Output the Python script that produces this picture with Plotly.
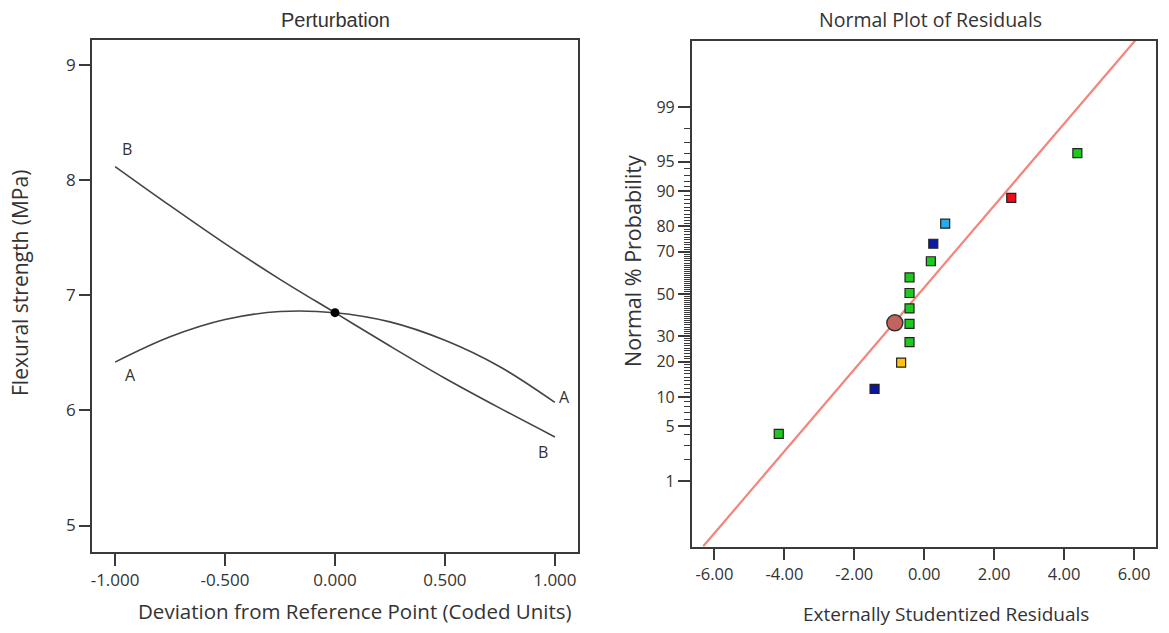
from statistics import NormalDist
import plotly.graph_objects as go

# ---------------- data: perturbation plot ----------------
coded_x = [-1.0, -0.75, -0.5, -0.25, 0.0, 0.25, 0.5, 0.75, 1.0]
factor_A = [6.42, 6.64, 6.79, 6.86, 6.85, 6.77, 6.61, 6.38, 6.07]
factor_B = [8.12, 7.78, 7.45, 7.14, 6.85, 6.56, 6.28, 6.02, 5.77]
ref_point_x = [0.0]
ref_point_y = [6.85]
left_yticks = [5, 6, 7, 8, 9]
left_xticks = [-1.0, -0.5, 0.0, 0.5, 1.0]
left_xtick_text = ["-1.000", "-0.500", "0.000", "0.500", "1.000"]

# ---------------- data: normal plot of residuals ----------------
residuals = [-4.16, -1.42, -0.66, -0.42, -0.42, -0.42, -0.42, -0.42, 0.19, 0.26, 0.60, 2.49, 4.38]
normal_prob = [4.1, 11.9, 19.7, 27.5, 35.5, 42.9, 50.5, 58.2, 65.8, 73.4, 80.9, 88.4, 96.0]
point_colors = ["#1ec81e", "#0a14a8", "#ffc20e", "#1ec81e", "#1ec81e", "#1ec81e", "#1ec81e",
                "#1ec81e", "#1ec81e", "#0a1aa0", "#22aee6", "#e8101a", "#1ec81e"]
highlight_x = [-0.84]
highlight_prob = [36.0]
fit_line_x = [-6.32, 6.04]
fit_line_prob = [0.085, 99.92]
prob_ticks = [1, 5, 10, 20, 30, 50, 70, 80, 90, 95, 99]
prob_minor = [p for p in range(2, 99) if p not in prob_ticks]
resid_ticks = [-6, -4, -2, 0, 2, 4, 6]
resid_tick_text = ["-6.00", "-4.00", "-2.00", "0.00", "2.00", "4.00", "6.00"]

nd = NormalDist()
z = lambda ps: [nd.inv_cdf(p / 100.0) for p in ps]

FONT = "Open Sans"
TXT = "#333333"
LINE = "#3a3a3a"

fig = go.Figure()

# left panel
fig.add_trace(go.Scatter(x=coded_x, y=factor_A, mode="lines", line=dict(color="#444444", width=1.6, shape="spline"),
                         xaxis="x", yaxis="y", name="A", hoverinfo="skip"))
fig.add_trace(go.Scatter(x=coded_x, y=factor_B, mode="lines", line=dict(color="#444444", width=1.6, shape="spline"),
                         xaxis="x", yaxis="y", name="B", hoverinfo="skip"))
fig.add_trace(go.Scatter(x=ref_point_x, y=ref_point_y, mode="markers", marker=dict(color="black", size=9),
                         xaxis="x", yaxis="y", name="ref"))

# right panel
fig.add_trace(go.Scatter(x=fit_line_x, y=z(fit_line_prob), mode="lines", line=dict(color="#f4857c", width=2.2),
                         xaxis="x2", yaxis="y2", name="fit"))
fig.add_trace(go.Scatter(x=residuals, y=z(normal_prob), mode="markers",
                         marker=dict(symbol="square", size=9, color=point_colors, line=dict(color="#222222", width=1.2)),
                         xaxis="x2", yaxis="y2", name="residuals"))
fig.add_trace(go.Scatter(x=highlight_x, y=z(highlight_prob), mode="markers",
                         marker=dict(symbol="circle", size=16, color="#c2645e", line=dict(color="#333333", width=1.5)),
                         xaxis="x2", yaxis="y2", name="selected"))

axis_common = dict(showgrid=False, zeroline=False, showline=True, mirror=True, linecolor=LINE, linewidth=1.5,
                   ticks="outside", tickcolor=LINE, tickwidth=1.5)

fig.update_layout(
    width=1169, height=633,
    margin=dict(l=0, r=0, t=0, b=0),
    paper_bgcolor="white", plot_bgcolor="white",
    showlegend=False,
    xaxis=dict(domain=[0.0787, 0.4944], range=[-1.105, 1.105], anchor="y",
               tickvals=left_xticks, ticktext=left_xtick_text, ticklen=12,
               tickfont=dict(family=FONT, size=17, color=TXT), **axis_common),
    yaxis=dict(domain=[0.128, 0.9368], range=[4.77, 9.22], anchor="x",
               tickvals=left_yticks, ticklen=11,
               tickfont=dict(family=FONT, size=17, color=TXT), **axis_common),
    xaxis2=dict(domain=[0.5917, 0.9889], range=[-6.65, 6.63], anchor="y2",
                tickvals=resid_ticks, ticktext=resid_tick_text, ticklen=12,
                tickfont=dict(family=FONT, size=16.5, color=TXT), **axis_common),
    yaxis2=dict(domain=[0.1363, 0.9357], range=[-3.143, 3.15], anchor="x2",
                tickvals=z(prob_ticks), ticktext=[str(p) for p in prob_ticks], ticklen=12,
                tickfont=dict(family=FONT, size=16, color=TXT),
                minor=dict(tickvals=z(prob_minor), ticklen=6, ticks="outside", tickcolor=LINE, tickwidth=1),
                **axis_common),
)


def ann(text, px, py, size, family=FONT, angle=0):
    return dict(text=text, x=px / 1169, y=1 - py / 633, xref="paper", yref="paper", showarrow=False,
                xanchor="center", yanchor="middle", textangle=angle,
                font=dict(family=family, size=size, color=TXT))


annotations = [
    ann("Perturbation", 335, 20, 20, family="Liberation Sans"),
    ann("Normal Plot of Residuals", 930, 20, 19.5),
    ann("Deviation from Reference Point (Coded Units)", 355, 611, 20.5),
    ann("Externally Studentized Residuals", 946, 614, 19),
    ann("Flexural strength (MPa)", 20, 283, 21, angle=-90),
    ann("Normal % Probability", 633, 261, 21.5, angle=-90),
]
label_font = dict(family=FONT, size=16, color=TXT)
for txt, xx, yy in [("B", -0.945, 8.27), ("A", -0.93, 6.31), ("A", 1.045, 6.12), ("B", 0.945, 5.64)]:
    annotations.append(dict(text=txt, x=xx, y=yy, xref="x", yref="y", showarrow=False,
                            xanchor="center", yanchor="middle", font=label_font))
fig.update_layout(annotations=annotations)

fig.write_html("out.html")
